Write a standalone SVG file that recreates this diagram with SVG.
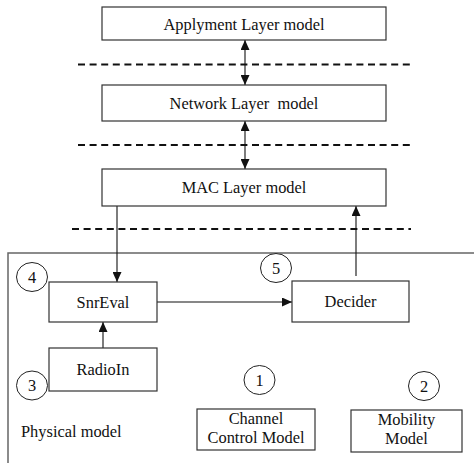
<svg xmlns="http://www.w3.org/2000/svg" width="474" height="463" viewBox="0 0 474 463">
<style>
.box{fill:#fff;stroke:#333;stroke-width:1.2}
.t{font-family:'Liberation Serif','DejaVu Serif',serif;font-size:16.4px;fill:#111;text-anchor:middle}
.tl{font-family:'Liberation Serif','DejaVu Serif',serif;font-size:16.4px;fill:#111}
.num{fill:#fff;stroke:#222;stroke-width:1}
.dash{stroke:#111;stroke-width:2.2;stroke-dasharray:7 4.6;fill:none}
.con{stroke:#111;stroke-width:1.1;fill:none}
</style>
<defs>
<marker id="ah" viewBox="0 0 10 9" refX="10" refY="4.5" markerWidth="10" markerHeight="9" markerUnits="userSpaceOnUse" orient="auto-start-reverse">
<path d="M0,0 L10,4.5 L0,9 z" fill="#111"/>
</marker>
</defs>
<rect id="physical-frame" x="8" y="253" width="480" height="220" fill="none" stroke="#666" stroke-width="1.5"/>
<g id="separators">
<line class="dash" x1="78" y1="64.5" x2="410" y2="64.5"/>
<line class="dash" x1="78" y1="145" x2="410" y2="145"/>
<line class="dash" x1="72" y1="229" x2="411" y2="229"/>
</g>
<g id="connectors">
<line class="con" x1="245" y1="40" x2="245" y2="85" marker-start="url(#ah)" marker-end="url(#ah)"/>
<line class="con" x1="245" y1="121" x2="245" y2="169" marker-start="url(#ah)" marker-end="url(#ah)"/>
<line class="con" x1="117" y1="206" x2="117" y2="282" marker-end="url(#ah)"/>
<line class="con" x1="356" y1="276" x2="356" y2="206" stroke="#555" marker-end="url(#ah)"/>
<line class="con" x1="157" y1="302" x2="292" y2="302" marker-end="url(#ah)"/>
<line class="con" x1="103" y1="348" x2="103" y2="322" marker-end="url(#ah)"/>
</g>
<g id="applyment">
<rect class="box" x="102" y="7" width="284" height="33"/>
<text class="t" x="244" y="29.5">Applyment Layer model</text>
</g>
<g id="network">
<rect class="box" x="102" y="85" width="284" height="36"/>
<text class="t" x="244" y="108.5" xml:space="preserve">Network Layer  model</text>
</g>
<g id="mac">
<rect class="box" x="102" y="169" width="284" height="37"/>
<text class="t" x="244" y="193">MAC Layer model</text>
</g>
<g id="snreval">
<rect class="box" x="49" y="282" width="108" height="40"/>
<text class="t" x="103" y="307.5">SnrEval</text>
</g>
<g id="decider">
<rect class="box" x="292" y="281" width="117" height="41"/>
<text class="t" x="350.5" y="307">Decider</text>
</g>
<g id="radioin">
<rect class="box" x="49" y="348" width="108" height="43"/>
<text class="t" x="103" y="375">RadioIn</text>
</g>
<g id="channel">
<rect class="box" x="197" y="409" width="118" height="41"/>
<text class="t" x="256" y="424">Channel</text>
<text class="t" x="256" y="443">Control Model</text>
</g>
<g id="mobility">
<rect class="box" x="351" y="410" width="111" height="42"/>
<text class="t" x="406.5" y="425">Mobility</text>
<text class="t" x="406.5" y="444">Model</text>
</g>
<g id="physical-label">
<text class="tl" x="21" y="437">Physical model</text>
</g>
<g id="n1"><ellipse class="num" cx="259.5" cy="380" rx="15.5" ry="14.5"/><text class="t" x="259.5" y="385.5">1</text></g>
<g id="n2"><ellipse class="num" cx="424" cy="386" rx="15.5" ry="14.5"/><text class="t" x="424" y="391.5">2</text></g>
<g id="n3"><ellipse class="num" cx="32" cy="385.5" rx="15.5" ry="14.5"/><text class="t" x="32" y="391">3</text></g>
<g id="n4"><ellipse class="num" cx="32" cy="277" rx="15.5" ry="14.5"/><text class="t" x="32" y="282.5">4</text></g>
<g id="n5"><ellipse class="num" cx="276" cy="268" rx="15.5" ry="14.5"/><text class="t" x="276" y="273.5">5</text></g>
</svg>
